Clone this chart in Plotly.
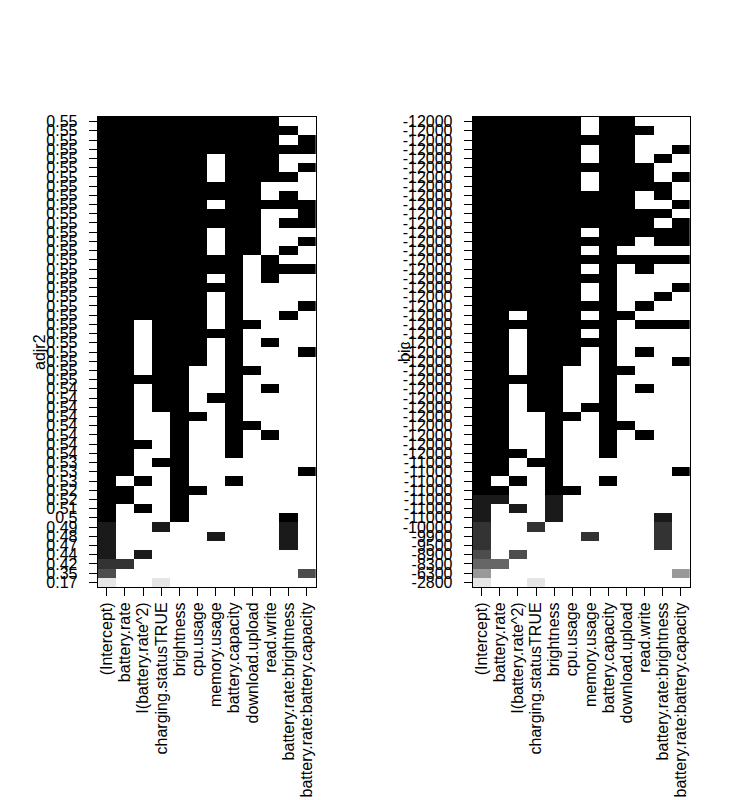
import math
import plotly.graph_objects as go

var_labels = ["(Intercept)", "battery.rate", "I(battery.rate^2)", "charging.statusTRUE",
              "brightness", "cpu.usage", "memory.usage", "battery.capacity",
              "download.upload", "read.write", "battery.rate:brightness",
              "battery.rate:battery.capacity"]

# models in adjusted-R^2 order (best first); "1" = variable included
models = [
    "111111111100", "111111111110", "111111111101", "111111111111",
    "111111011100", "111111011101", "111111011110", "111111111000",
    "111111111010", "111111011111", "111111111001", "111111111011",
    "111111011000", "111111011001", "111111011010", "111111110100",
    "111111110111", "111111010100", "111111110000", "111111010000",
    "111111010001", "111111010010", "110111011000", "110111110000",
    "110111010100", "110111010001", "110111010000", "110110011000",
    "111110010000", "110110010100", "110110110000", "110110010000",
    "110011010000", "110010011000", "110010010100", "111010010000",
    "110010010000", "110110000000", "110010000001", "101010010000",
    "110011000000", "110010000000", "101010000000", "100010000010",
    "100100000010", "100000100010", "100000000010", "101000000000",
    "110000000000", "100000000001", "100100000000",
]

adjr2 = [0.55] * 29 + [0.54] * 8 + [0.53, 0.53, 0.53, 0.52, 0.52, 0.51, 0.50,
                                   0.487, 0.48, 0.47, 0.44, 0.42, 0.35, 0.17]

# model indices in BIC order (best first) and their BIC values
bic_order = [12, 4, 7, 13, 14, 0, 5, 6, 8, 10, 1, 2, 9, 11, 19, 3, 17, 18, 20, 21,
             15, 22, 16, 26, 23, 24, 25, 27, 28, 29, 31, 30, 32, 33, 34, 36, 35,
             37, 38, 39, 40, 41, 42, 43, 44, 45, 46, 47, 48, 49, 50]
bic = [-12110, -12100, -12095, -12090, -12080, -12070, -12065, -12060, -12050,
       -12040, -12030, -12020, -12010, -12000, -11990, -11975, -11960, -11950,
       -11940, -11930, -11920, -11905, -11890, -11880, -11860, -11850, -11840,
       -11830, -11815, -11800, -11790, -11770, -11750, -11730, -11700, -11680,
       -11650, -11400, -11300, -11250, -11200, -11000, -10800, -10600, -10000,
       -9900, -9500, -8900, -8300, -6300, -2800]

FONT = "Liberation Sans, Arial, Helvetica, sans-serif"
W, H = 750, 800
OFF = 8  # page body margin


def signif2(v):
    if v == 0:
        return "0"
    d = 2 - int(math.floor(math.log10(abs(v)))) - 1
    r = round(v, d)
    if d <= 0:
        return str(int(r))
    return f"{r:.{d}f}".rstrip("0").rstrip(".")


def gray_hex(level):
    c = int(round(level * 255))
    return f"#{c:02X}{c:02X}{c:02X}"


levels = [i * 0.1 for i in range(10)]
colorscale = []
for i, lv in enumerate(levels):
    colorscale.append([i / 10, gray_hex(lv)])
    colorscale.append([(i + 1) / 10, gray_hex(lv)])


def build(rows, stat, colorvals):
    n = len(rows)
    z = []
    for r in range(n - 1, -1, -1):          # bottom row = worst model
        z.append([colorvals[r] if ch == "1" else None for ch in rows[r]])
    ticktext = [signif2(stat[r]) for r in range(n - 1, -1, -1)]
    return z, ticktext


left_col = [-math.log(max(v, 0.0001)) for v in adjr2]
zl, tl = build(models, adjr2, left_col)

right_rows = [models[i] for i in bic_order]
zr, tr = build(right_rows, bic, bic)

n = len(models)
xs = list(range(1, len(var_labels) + 1))
ys = list(range(1, n + 1))

fig = go.Figure()
fig.add_trace(go.Heatmap(z=zl, x=xs, y=ys, colorscale=colorscale,
                         zmin=min(left_col), zmax=max(left_col),
                         showscale=False, hoverinfo="skip",
                         xaxis="x", yaxis="y"))
fig.add_trace(go.Heatmap(z=zr, x=xs, y=ys, colorscale=colorscale,
                         zmin=min(bic), zmax=max(bic),
                         showscale=False, hoverinfo="skip",
                         xaxis="x2", yaxis="y2"))


def px_x(v):
    return (v - OFF) / W


def px_y(v):
    return 1 - (v - OFF) / H


y0, y1 = px_y(587), px_y(117)
axis_common = dict(showline=True, mirror=True, linecolor="black", linewidth=1,
                   ticks="outside", ticklen=8, tickcolor="black", tickwidth=1,
                   showgrid=False, zeroline=False, automargin=False,
                   tickfont=dict(family=FONT, size=16, color="black"))

fig.update_layout(
    width=W, height=H,
    margin=dict(l=0, r=0, t=0, b=0),
    paper_bgcolor="white", plot_bgcolor="white",
    showlegend=False,
    xaxis=dict(domain=[px_x(97.7), px_x(316)], range=[0.5, 12.5], tickvals=xs,
               ticktext=var_labels, tickangle=-90, anchor="y", **axis_common),
    yaxis=dict(domain=[y0, y1], range=[0.5, n + 0.5], tickvals=ys,
               ticktext=tl, anchor="x", ticklabelstandoff=8, **axis_common),
    xaxis2=dict(domain=[px_x(472.7), px_x(690)], range=[0.5, 12.5], tickvals=xs,
                ticktext=var_labels, tickangle=-90, anchor="y2", **axis_common),
    yaxis2=dict(domain=[y0, y1], range=[0.5, n + 0.5], tickvals=ys,
                ticktext=tr, anchor="x2", ticklabelstandoff=8, **axis_common),
    annotations=[
        dict(text="adjr2", x=px_x(40), y=(y0 + y1) / 2, xref="paper", yref="paper",
             textangle=-90, showarrow=False, xanchor="center", yanchor="middle",
             font=dict(family=FONT, size=16, color="black")),
        dict(text="bic", x=px_x(405), y=(y0 + y1) / 2, xref="paper", yref="paper",
             textangle=-90, showarrow=False, xanchor="center", yanchor="middle",
             font=dict(family=FONT, size=16, color="black")),
    ],
)

fig.write_html("out.html")
